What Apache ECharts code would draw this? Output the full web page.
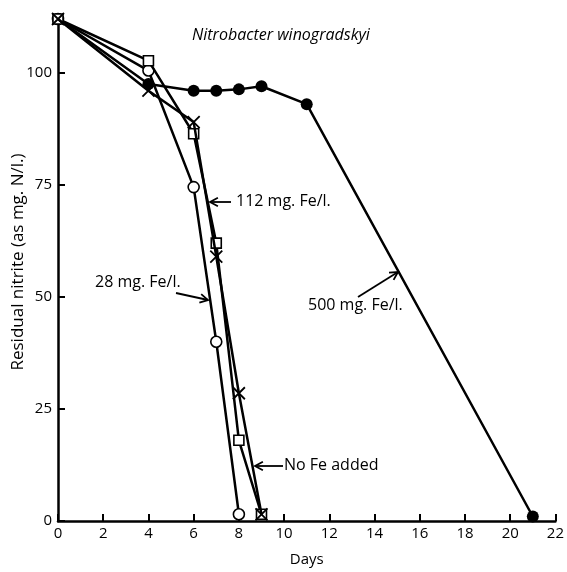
<!DOCTYPE html>
<html>
<head>
<meta charset="utf-8">
<script src="https://cdn.jsdelivr.net/npm/echarts@6/dist/echarts.min.js"></script>
<style>
  html, body { margin: 0; padding: 0; background: #fff; }
  #chart { width: 567px; height: 572px; }
</style>
</head>
<body>
<div id="chart"></div>
<script>
// data (days, residual nitrite mg N/l)
const days500 = [0, 4, 6, 7, 8, 9, 11, 21];
const fe500 = [112, 97.5, 96, 96, 96.3, 97, 93, 1];
const days28 = [0, 4, 6, 7, 8];
const fe28 = [112, 100.5, 74.5, 40, 1.5];
const days112 = [0, 4, 6, 7, 8, 9];
const fe112 = [112, 102.7, 86.4, 62, 18, 1.5];
const daysNoFe = [0, 4, 6, 7, 8, 9];
const noFe = [112, 96, 89, 59, 28.5, 1.5];
const yTicks = [0, 25, 50, 75, 100];

const FONT = "Open Sans";
const pairs = (xs, ys) => xs.map((x, i) => [x, ys[i]]);

const chart = echarts.init(document.getElementById("chart"));

// open-V arrow for the annotations
function arrow(x1, y1, x2, y2) {
  const a = Math.atan2(y2 - y1, x2 - x1);
  const h = 9, w = 0.5;
  return {
    type: "group",
    children: [
      { type: "line", shape: { x1, y1, x2, y2 }, style: { stroke: "#000", lineWidth: 1.8 } },
      {
        type: "polyline",
        shape: {
          points: [
            [x2 - h * Math.cos(a - w), y2 - h * Math.sin(a - w)],
            [x2, y2],
            [x2 - h * Math.cos(a + w), y2 - h * Math.sin(a + w)],
          ],
        },
        style: { stroke: "#000", lineWidth: 1.8, fill: null },
      },
    ],
  };
}

function label(text, x, y, opts) {
  return {
    type: "text",
    x, y,
    style: Object.assign({ text, fill: "#000", font: "16px " + FONT, textVerticalAlign: "middle" }, opts || {}),
  };
}

const lineStyle = { color: "#000", width: 2.5 };

const option = {
  animation: false,
  grid: { left: 58, right: 11, top: 19, bottom: 42 },
  xAxis: {
    type: "value",
    min: 0,
    max: 22,
    interval: 2,
    name: "Days",
    nameLocation: "middle",
    nameGap: 31,
    nameTextStyle: { color: "#000", fontFamily: FONT, fontSize: 15 },
    axisLine: { lineStyle: { color: "#000", width: 2.5 } },
    axisTick: { inside: true, length: 7, lineStyle: { color: "#000", width: 2 } },
    axisLabel: { color: "#000", fontFamily: FONT, fontSize: 15, margin: 5 },
    splitLine: { show: false },
  },
  yAxis: {
    type: "value",
    min: 0,
    max: 112,
    interval: 25,
    axisLine: { show: true, lineStyle: { color: "#000", width: 2.5 } },
    axisTick: { show: true, inside: true, length: 7, customValues: yTicks, lineStyle: { color: "#000", width: 2 } },
    axisLabel: { color: "#000", fontFamily: FONT, fontSize: 15, margin: 6, customValues: yTicks },
    splitLine: { show: false },
  },
  series: [
    {
      name: "500 mg. Fe/l.",
      type: "line",
      data: pairs(days500, fe500),
      symbol: "circle",
      symbolSize: 12,
      lineStyle,
      itemStyle: { color: "#000" },
      z: 2,
    },
    {
      name: "28 mg. Fe/l.",
      type: "line",
      data: pairs(days28, fe28),
      symbol: "circle",
      symbolSize: 11,
      lineStyle,
      itemStyle: { color: "#fff", borderColor: "#000", borderWidth: 1.6 },
      z: 3,
    },
    {
      name: "112 mg. Fe/l.",
      type: "line",
      data: pairs(days112, fe112),
      symbol: "rect",
      symbolSize: 10,
      lineStyle,
      itemStyle: { color: "#fff", borderColor: "#000", borderWidth: 1.6 },
      z: 4,
    },
    {
      name: "No Fe added",
      type: "line",
      data: pairs(daysNoFe, noFe),
      symbol: "path://M0,0L10,10M10,0L0,10",
      symbolSize: 12,
      lineStyle,
      itemStyle: { color: "#000", borderColor: "#000", borderWidth: 1.8 },
      z: 5,
    },
  ],
  graphic: [
    label("Nitrobacter winogradskyi", 192, 35, { font: "italic 16px " + FONT }),
    {
      type: "text",
      x: 18,
      y: 262,
      rotation: Math.PI / 2,
      style: {
        text: "Residual nitrite (as mg. N/l.)",
        fill: "#000",
        font: "17px " + FONT,
        textAlign: "center",
        textVerticalAlign: "middle",
      },
    },
    label("112 mg. Fe/l.", 236, 201),
    arrow(231, 202, 210, 202),
    label("28 mg. Fe/l.", 95, 282),
    arrow(176, 293, 208, 300),
    label("500 mg. Fe/l.", 308, 305),
    arrow(358, 297, 398, 272),
    label("No Fe added", 284, 465),
    arrow(283, 466, 255, 466),
  ],
};

chart.setOption(option);
</script>
</body>
</html>
